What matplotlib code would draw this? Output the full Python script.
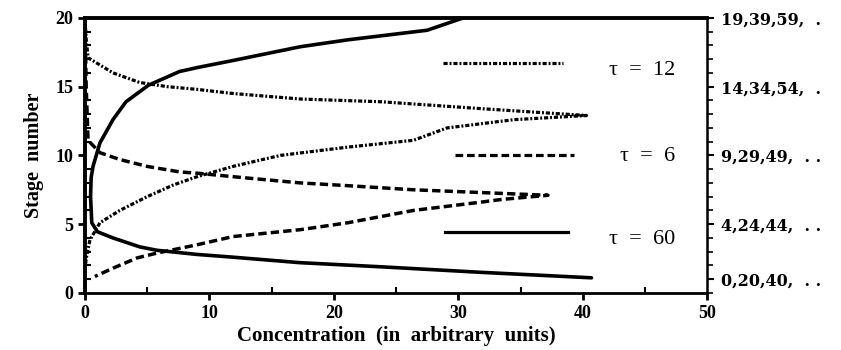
import matplotlib.pyplot as plt
from matplotlib.ticker import MultipleLocator, FixedLocator

# concentration profiles (x = concentration, y = stage position)
tau60_x = [40.7, 31.8, 23.8, 17.3, 11.9, 9.0, 5.8, 4.4, 2.25, 1.0, 0.55, 0.45, 0.5,
           0.65, 1.2, 2.25, 3.3, 5.1, 7.6, 9.1, 11.9, 17.3, 21.1, 27.5, 30.4]
tau60_y = [1.1, 1.5, 1.9, 2.2, 2.6, 2.8, 3.1, 3.35, 4.0, 4.45, 5.1, 7.0, 8.4,
           9.2, 10.9, 12.6, 13.9, 15.1, 16.1, 16.4, 16.9, 17.9, 18.4, 19.1, 20.0]

tau6_x = [0.0, 0.1, 0.25, 1.2, 2.8, 5.0, 7.6, 9.1, 12.5, 17.3, 21.1, 26.4, 31.8, 37.2,
          33.5, 31.8, 26.4, 21.1, 17.3, 11.9, 9.0, 5.8, 4.2, 2.25, 0.8]
tau6_y = [20.0, 15.0, 11.1, 10.2, 9.7, 9.2, 8.8, 8.7, 8.4, 8.0, 7.8, 7.5, 7.3, 7.1,
          6.8, 6.6, 6.0, 5.1, 4.6, 4.1, 3.5, 2.9, 2.55, 1.8, 1.2]

tau12_x = [0.0, 0.1, 0.25, 2.25, 4.4, 6.6, 9.0, 11.9, 17.3, 23.8, 31.8, 40.3,
           34.5, 29.1, 26.4, 21.1, 15.7, 11.9, 9.0, 7.1, 5.0, 2.8, 1.2, 0.4, 0.1, 0.0]
tau12_y = [20.0, 18.5, 17.1, 16.0, 15.3, 15.0, 14.8, 14.5, 14.1, 13.9, 13.4, 12.9,
           12.6, 12.0, 11.1, 10.6, 10.0, 9.2, 8.45, 7.85, 7.0, 6.0, 5.1, 3.85, 2.5, 1.7]

right_ticks = [1, 5, 10, 15, 20]
right_labels = ["0,20,40,  . .", "4,24,44,  . .", "9,29,49,  . .",
                "14,34,54,  .", "19,39,59,  ."]

key_labels = ["\u03c4 = 12", "\u03c4 = 6", "\u03c4 = 60"]
key_y = [16.7, 10.0, 4.4]
key_ty = [16.2, 9.9, 3.9]
key_x = [[28.8, 38.4], [29.7, 39.3], [28.9, 38.8]]

plt.rcParams["font.family"] = ["Liberation Serif", "DejaVu Serif"]

dashed = (0, (2.4, 1.2))
dashdot = (0, (1.3, 0.6, 0.6, 0.6))

fig = plt.figure(figsize=(8.41, 3.5), dpi=100)
ax = fig.add_axes([0.101, 0.163, 0.740, 0.786])

ax.plot(tau60_x, tau60_y, color="black", lw=2.6, ls="-", solid_capstyle="round",
        solid_joinstyle="round")
ax.plot(tau6_x, tau6_y, color="black", lw=2.5, ls=dashed)
ax.plot(tau12_x, tau12_y, color="black", lw=2.3, ls=dashdot)

for xs, y, ty, lab, st in zip(key_x, key_y, key_ty, key_labels, [dashdot, dashed, "-"]):
    ax.plot(xs, [y, y], color="black", lw=2.3, ls=st)
    ax.text(47.4, ty, lab.replace(" = ", "  =  "), fontsize=16, ha="right", va="center")

ax.set_xlim(0, 50)
ax.set_ylim(0, 20)
ax.xaxis.set_major_locator(MultipleLocator(10))
ax.xaxis.set_minor_locator(MultipleLocator(5))
ax.yaxis.set_major_locator(MultipleLocator(5))
ax.yaxis.set_minor_locator(MultipleLocator(1))
ax.tick_params(axis="both", which="major", direction="out", length=5, width=2,
               labelsize=13)
ax.tick_params(axis="both", which="minor", direction="in", length=4, width=1.5)
for lab in ax.get_xticklabels() + ax.get_yticklabels():
    lab.set_fontweight("bold")

for side in ["left", "top"]:
    ax.spines[side].set_linewidth(2.8)
ax.spines["bottom"].set_linewidth(2)
ax.spines["right"].set_linewidth(1.8)

ax.set_xlabel("Concentration  (in  arbitrary  units)", fontsize=15,
              fontweight="bold", labelpad=3)
ax.set_ylabel("Stage  number", fontsize=14.5, fontweight="bold", labelpad=8)

ax2 = ax.twinx()
ax2.set_ylim(0, 20)
ax2.yaxis.set_major_locator(FixedLocator(right_ticks))
ax2.yaxis.set_minor_locator(MultipleLocator(1))
ax2.set_yticklabels(right_labels, fontsize=11.5, fontweight="bold",
                    family=["DejaVu Serif"])
ax2.tick_params(axis="y", which="major", direction="out", length=5, width=1.5, pad=5)
ax2.tick_params(axis="y", which="minor", direction="out", length=4, width=1.2)
for s in ax2.spines.values():
    s.set_visible(False)

fig.savefig("out.png", dpi=100)
